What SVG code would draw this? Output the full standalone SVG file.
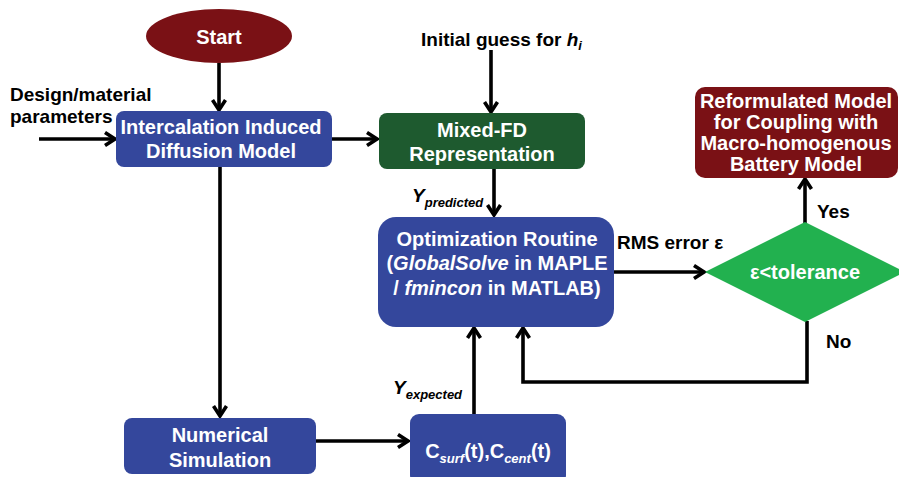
<svg xmlns="http://www.w3.org/2000/svg" width="899" height="477" viewBox="0 0 899 477">
  <defs>
    <marker id="arrow" markerUnits="userSpaceOnUse" markerWidth="16" markerHeight="16" viewBox="0 0 16 16" refX="13" refY="8" orient="auto">
      <path d="M3,1.5 L13,8 L3,14.5" fill="none" stroke="#000" stroke-width="3.6" stroke-linecap="butt" stroke-linejoin="miter"/>
    </marker>
    <style>
      .blue { fill: #34479c; }
      .dred { fill: #7a1115; }
      .dgreen { fill: #1e5a2f; }
      .lgreen { fill: #22b14f; }
      .lbl { font-family: "Liberation Sans", Arial, sans-serif; font-weight: bold; font-size: 20px; text-anchor: middle; fill: #fff; }
      .out { font-family: "Liberation Sans", Arial, sans-serif; font-weight: bold; font-size: 19px; fill: #000; }
      .sub { font-size: 13px; font-style: italic; }
      .conn { fill: none; stroke: #000; stroke-width: 3.6; }
    </style>
  </defs>

  <g id="connectors">
    <path class="conn" d="M219,63 V110" marker-end="url(#arrow)"/>
    <path class="conn" d="M39,139 H115" marker-end="url(#arrow)"/>
    <path class="conn" d="M332,139 H377" marker-end="url(#arrow)"/>
    <path class="conn" d="M491,50 V112" marker-end="url(#arrow)"/>
    <path class="conn" d="M494,169 V215" marker-end="url(#arrow)"/>
    <path class="conn" d="M612,272 H704" marker-end="url(#arrow)"/>
    <path class="conn" d="M805,223 V179" marker-end="url(#arrow)"/>
    <path class="conn" d="M807,321 V382 H523 V328" marker-end="url(#arrow)"/>
    <path class="conn" d="M474,414 V328" marker-end="url(#arrow)"/>
    <path class="conn" d="M220,167 V416" marker-end="url(#arrow)"/>
    <path class="conn" d="M316,441 H408" marker-end="url(#arrow)"/>
  </g>

  <g id="start">
    <ellipse class="dred" cx="219" cy="36" rx="73" ry="27"/>
    <text class="lbl" x="219" y="44" font-size="22">Start</text>
  </g>

  <g id="design-params">
    <text class="out" x="10" y="101">Design/material</text>
    <text class="out" x="10" y="123">parameters</text>
  </g>

  <g id="intercalation">
    <rect class="blue" x="116" y="111" width="216" height="56" rx="8"/>
    <text class="lbl" x="221" y="134">Intercalation Induced</text>
    <text class="lbl" x="221" y="158">Diffusion Model</text>
  </g>

  <g id="initial-guess">
    <text class="out" x="421" y="46">Initial guess for <tspan font-style="italic">h</tspan><tspan class="sub" dy="4">i</tspan></text>
  </g>

  <g id="mixed-fd">
    <rect class="dgreen" x="379" y="113" width="206" height="56" rx="8"/>
    <text class="lbl" x="482" y="137">Mixed-FD</text>
    <text class="lbl" x="482" y="161">Representation</text>
  </g>

  <g id="y-predicted">
    <text class="out" x="412" y="202" font-style="italic">Y<tspan class="sub" dy="5">predicted</tspan></text>
  </g>

  <g id="optimization">
    <rect class="blue" x="378" y="217" width="236" height="110" rx="18"/>
    <text class="lbl" x="497" y="246">Optimization Routine</text>
    <text class="lbl" x="497" y="270">(<tspan font-style="italic">GlobalSolve</tspan> in MAPLE</text>
    <text class="lbl" x="497" y="295">/ <tspan font-style="italic">fmincon</tspan> in MATLAB)</text>
  </g>

  <g id="rms-error">
    <text class="out" x="617" y="249">RMS error ε</text>
  </g>

  <g id="tolerance">
    <polygon class="lgreen" points="705,272 805,222 905,272 805,322"/>
    <text class="lbl" x="805" y="279">ε&lt;tolerance</text>
  </g>

  <g id="reformulated">
    <rect class="dred" x="695" y="87" width="203" height="91" rx="10"/>
    <text class="lbl" x="796" y="108" font-size="17.5">Reformulated Model</text>
    <text class="lbl" x="796" y="129" font-size="17.5">for Coupling with</text>
    <text class="lbl" x="796" y="150" font-size="17.5">Macro-homogenous</text>
    <text class="lbl" x="796" y="171" font-size="17.5">Battery Model</text>
  </g>

  <g id="yes-label">
    <text class="out" x="817" y="218">Yes</text>
  </g>

  <g id="no-label">
    <text class="out" x="826" y="348">No</text>
  </g>

  <g id="y-expected">
    <text class="out" x="393" y="394" font-style="italic">Y<tspan class="sub" dy="5">expected</tspan></text>
  </g>

  <g id="numerical">
    <rect class="blue" x="124" y="418" width="192" height="56" rx="8"/>
    <text class="lbl" x="220" y="442">Numerical</text>
    <text class="lbl" x="220" y="467">Simulation</text>
  </g>

  <g id="concentrations">
    <rect class="blue" x="410" y="414" width="156" height="70" rx="9"/>
    <text class="lbl" x="488" y="458">C<tspan class="sub" dy="5" font-size="14">surf</tspan><tspan dy="-5">(t),C</tspan><tspan class="sub" dy="5" font-size="14">cent</tspan><tspan dy="-5">(t)</tspan></text>
  </g>
</svg>
